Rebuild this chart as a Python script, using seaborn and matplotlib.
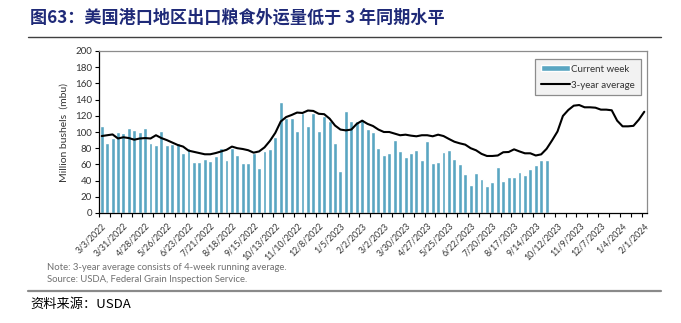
import numpy as np
import pandas as pd
import matplotlib
matplotlib.use("Agg")
import matplotlib.pyplot as plt
import seaborn as sns

# Weekly export inspections (million bushels), week of 3/3/2022 onward
current_week = [
    107, 87, 92.6, 100, 99, 105, 102, 99.6, 104.5, 87,
    84, 101, 84, 85, 87, 74.5, 80.7, 62.5, 62.5, 66.7,
    64, 70, 80, 66, 80, 71.6, 61.5, 61.5, 74, 55.6,
    76, 79.4, 94, 136.6, 117, 117, 101.7, 123, 107, 123,
    101, 120, 114, 86, 51.4, 126, 113, 113, 116.5, 103.7,
    100, 80, 71, 74.5, 89.7, 77, 68.7, 74.5, 78, 65,
    89, 62, 63.4, 75.3, 77.4, 66.7, 61, 48, 35, 49.8,
    41.6, 33, 38, 56.4, 39, 44.4, 44.4, 51, 47, 54.3,
    59.7, 66, 66,
]

# 3-year average (4-week running average), through 2/1/2024
three_year_avg = [
    95, 96, 97, 92, 93.5, 92.5, 90.5, 92, 92.5, 92,
    96, 92.5, 90, 87, 84, 82, 77, 75.5, 74, 72.5,
    72.5, 74, 76, 78, 82, 80, 79, 77.5, 74.5, 76,
    81, 89, 99, 113, 118.5, 121, 124, 123.5, 126.5, 126,
    122.5, 122, 116.5, 108, 103, 102, 103, 110, 114, 110,
    107.4, 103, 100, 100, 98, 96, 96.7, 95.5, 94.7, 96,
    96, 94.7, 96.7, 95, 91.4, 88, 86, 84.4, 80, 77.4,
    73, 70.4, 70.4, 71, 75, 75.3, 78.6, 76, 73.7, 73.7,
    71, 72.4, 79.3, 89.6, 100.6, 119.8, 127.2, 132.5, 133.3, 130.5,
    130.5, 130, 127.6, 127.6, 126.8, 114, 107, 107, 107.6, 115.3,
    125,
]

date_labels = [
    "3/3/2022", "3/31/2022", "4/28/2022", "5/26/2022", "6/23/2022",
    "7/21/2022", "8/18/2022", "9/15/2022", "10/13/2022", "11/10/2022",
    "12/8/2022", "1/5/2023", "2/2/2023", "3/2/2023", "3/30/2023",
    "4/27/2023", "5/25/2023", "6/22/2023", "7/20/2023", "8/17/2023",
    "9/14/2023", "10/12/2023", "11/9/2023", "12/7/2023", "1/4/2024",
    "2/1/2024",
]

title = "图63：美国港口地区出口粮食外运量低于 3 年同期水平"
note_lines = [
    "Note: 3-year average consists of 4-week running average.",
    "Source: USDA, Federal Grain Inspection Service.",
]
source = "资料来源：USDA"

sns.set_theme(style="white")
plt.rcParams["font.family"] = ["Lato", "Noto Sans CJK SC", "DejaVu Sans"]

bar_df = pd.DataFrame({"week": np.arange(len(current_week)), "mbu": current_week})
avg_df = pd.DataFrame({"week": np.arange(len(three_year_avg)), "mbu": three_year_avg})

W, H = 681, 323
fig = plt.figure(figsize=(W / 100, H / 100), dpi=100)
ax = fig.add_axes([99 / W, 1 - 213 / H, (647 - 99) / W, (213 - 51) / H])

sns.barplot(data=bar_df, x="week", y="mbu", native_scale=True, width=0.72,
            color="#5aa6c2", saturation=1, ax=ax, label="Current week")
sns.lineplot(data=avg_df, x="week", y="mbu", color="black", linewidth=1.5,
             ax=ax, label="3-year average")

ax.set_xlim(-0.5, len(three_year_avg) - 0.5)
ax.set_ylim(0, 200)
ax.set_yticks(np.arange(0, 201, 20))
ax.tick_params(axis="y", labelsize=7, length=3, width=0.8, direction="out",
               left=True, pad=2, color="black", labelcolor="#333333")

ax.set_xticks(np.arange(0, len(three_year_avg), 4))
ax.set_xticklabels(date_labels, rotation=45, ha="right", rotation_mode="anchor",
                   fontsize=6.3, color="#333333")
ax.set_xticks(np.arange(-0.5, len(three_year_avg), 2), minor=True)
ax.tick_params(axis="x", which="major", length=0, pad=6)
ax.tick_params(axis="x", which="minor", length=3, width=0.8, direction="out",
               bottom=True, color="black")

ax.set_xlabel("")
ax.set_ylabel("Million bushels  (mbu)", fontsize=7.5, color="#333333", labelpad=5)

for side in ("left", "bottom"):
    ax.spines[side].set_color("black")
    ax.spines[side].set_linewidth(0.9)
for side in ("top", "right"):
    ax.spines[side].set_color("#8c8c8c")
    ax.spines[side].set_linewidth(0.9)

# Bars first, then the average line
handles, labels = ax.get_legend_handles_labels()
order = [labels.index("Current week"), labels.index("3-year average")]
leg = ax.legend([handles[i] for i in order], [labels[i] for i in order],
                loc="upper right", bbox_to_anchor=(0.989, 0.951), borderaxespad=0,
                fontsize=7, frameon=True, fancybox=False, framealpha=1,
                facecolor="#f2f2f2", edgecolor="#8c8c8c", handlelength=3.0,
                handleheight=0.6, handletextpad=0.1, borderpad=0.6,
                labelspacing=0.7)
leg.get_frame().set_linewidth(0.9)
for t in leg.get_texts():
    t.set_color("#333333")

fig.text(30 / W, 1 - 18 / H, title, fontsize=12.3, fontweight="bold", color="#1f2a78",
         family=["Noto Sans CJK SC", "DejaVu Sans"], va="center", ha="left")
fig.add_artist(plt.Line2D([28 / W, 661 / W], [1 - 37 / H, 1 - 37 / H],
                          color="#404040", linewidth=1.0))

fig.text(47 / W, 1 - 267 / H, note_lines[0], fontsize=6.8, color="#707070", va="center")
fig.text(47 / W, 1 - 280 / H, note_lines[1], fontsize=6.8, color="#707070", va="center")
fig.add_artist(plt.Line2D([28 / W, 661 / W], [1 - 291 / H, 1 - 291 / H],
                          color="#8a8a8a", linewidth=1.6))
fig.text(30 / W, 1 - 304 / H, source, fontsize=9.5, color="black",
         family=["Noto Sans CJK SC", "DejaVu Sans"], va="center", ha="left")

fig.savefig("out.png", dpi=100, facecolor="white")
